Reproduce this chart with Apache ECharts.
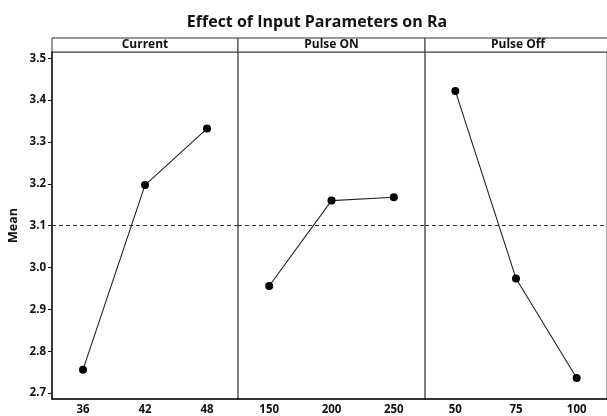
<!DOCTYPE html>
<html>
<head>
    <meta charset="utf-8">
    <script src="https://cdn.jsdelivr.net/npm/echarts@6/dist/echarts.min.js"></script>
    <style>
        html, body { margin: 0; padding: 0; background: #fff; }
        #container { width: 607px; height: 416px; }
    </style>
</head>
<body>
    <div id="container"></div>
    <script type="text/javascript">
        // main effects data (mean Ra per level)
        var panelNames = ['Current', 'Pulse ON', 'Pulse Off'];
        var currentLevels = ['36', '42', '48'];
        var currentMeans = [2.756, 3.197, 3.332];
        var pulseOnLevels = ['150', '200', '250'];
        var pulseOnMeans = [2.956, 3.160, 3.168];
        var pulseOffLevels = ['50', '75', '100'];
        var pulseOffMeans = [3.422, 2.974, 2.736];
        var grandMean = 3.095;
        var yTicks = [2.7, 2.8, 2.9, 3.0, 3.1, 3.2, 3.3, 3.4, 3.5];

        var levels = [currentLevels, pulseOnLevels, pulseOffLevels];
        var means = [currentMeans, pulseOnMeans, pulseOffMeans];

        // layout
        var panelLeft = [52, 238, 425];
        var panelWidth = [186, 187, 186];
        var stripTop = 38, plotTop = 52, plotBottom = 16;
        var labelFont = { color: '#111', fontFamily: 'Open Sans', fontWeight: 'bold', fontSize: 11.5 };

        var myChart = echarts.init(document.getElementById('container'));

        var grids = [], xAxes = [], yAxes = [], series = [], graphics = [];
        for (var i = 0; i < 3; i++) {
            grids.push({
                left: panelLeft[i], width: panelWidth[i], top: plotTop, bottom: plotBottom,
                show: true, borderColor: '#555', borderWidth: 1, backgroundColor: 'transparent'
            });
            xAxes.push({
                type: 'category', gridIndex: i, data: levels[i], boundaryGap: true,
                axisLine: { lineStyle: { color: '#111', width: 1.5 } },
                axisTick: { alignWithLabel: true, length: 3, lineStyle: { color: '#111' } },
                axisLabel: Object.assign({ margin: 5 }, labelFont),
                splitLine: { show: false }
            });
            yAxes.push({
                type: 'value', gridIndex: i, min: 2.686, max: 3.515,
                show: i === 0,
                name: i === 0 ? 'Mean' : '',
                nameLocation: 'middle', nameGap: 32,
                nameTextStyle: { color: '#111', fontFamily: 'Open Sans', fontWeight: 'bold', fontSize: 12.5 },
                axisLine: { show: true, lineStyle: { color: '#111', width: 1.5 } },
                axisTick: { show: true, length: 4, customValues: yTicks, lineStyle: { color: '#111' } },
                axisLabel: Object.assign({ margin: 6, customValues: yTicks, formatter: function (v) { return v.toFixed(1); } }, labelFont),
                splitLine: { show: false }
            });
            series.push({
                type: 'line', xAxisIndex: i, yAxisIndex: i, data: means[i],
                symbol: 'circle', symbolSize: 8,
                itemStyle: { color: '#000' },
                lineStyle: { color: '#222', width: 1.1 },
                animation: false,
                markLine: {
                    silent: true, symbol: 'none', label: { show: false },
                    lineStyle: { color: '#333', type: [4, 3], width: 1 },
                    data: [{ yAxis: grandMean }]
                }
            });
            graphics.push({
                type: 'rect',
                shape: { x: panelLeft[i], y: stripTop, width: panelWidth[i], height: plotTop - stripTop },
                style: { fill: '#fff', stroke: '#333', lineWidth: 1 }
            });
            graphics.push({
                type: 'text',
                x: panelLeft[i] + panelWidth[i] / 2, y: (stripTop + plotTop) / 2,
                style: {
                    text: panelNames[i], fill: '#111', font: 'bold 12px "Open Sans"',
                    textAlign: 'center', textVerticalAlign: 'middle'
                }
            });
        }

        var option = {
            backgroundColor: '#fff',
            title: {
                text: 'Effect of Input Parameters on Ra',
                left: 312, top: 9, textAlign: 'center',
                textStyle: { color: '#111', fontFamily: 'Open Sans', fontWeight: 'bold', fontSize: 16 }
            },
            grid: grids,
            xAxis: xAxes,
            yAxis: yAxes,
            series: series,
            graphic: graphics
        };
        myChart.setOption(option);
    </script>
</body>
</html>
